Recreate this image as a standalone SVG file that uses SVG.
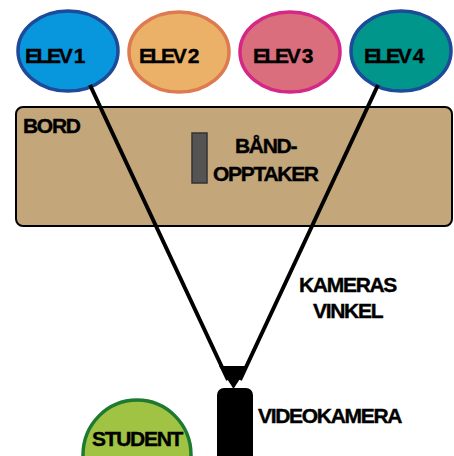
<svg xmlns="http://www.w3.org/2000/svg" width="454" height="456" viewBox="0 0 454 456">
  <style>
    .lbl { font-family: "Liberation Sans", Arial, sans-serif; font-weight: bold; font-size: 21px; letter-spacing: -1.3px; fill: #000; stroke: #000; stroke-width: 0.4px; }
    .tight { letter-spacing: -2.4px; }
    .elev { stroke-width: 3.5; }
    .ray { stroke: #000; stroke-width: 4; fill: none; }
  </style>
  <rect width="454" height="456" fill="#fff"/>

  <!-- table -->
  <g id="bord">
    <rect x="16" y="107" width="436" height="119" rx="7" fill="#c4a67b" stroke="#000" stroke-width="2"/>
    <text class="lbl" x="23" y="133">BORD</text>
  </g>

  <!-- tape recorder on the table -->
  <g id="baandopptaker">
    <rect x="192" y="133" width="15" height="50" fill="#545454" stroke="#333" stroke-width="1.5"/>
    <text class="lbl" x="235" y="153">BÅND-</text>
    <text class="lbl" x="213" y="181">OPPTAKER</text>
  </g>

  <!-- pupils -->
  <g id="elev1">
    <ellipse class="elev" cx="68" cy="51" rx="50" ry="40" fill="#0897dc" stroke="#1e4a9a"/>
    <text class="lbl tight" x="25" y="63">ELEV 1</text>
  </g>
  <g id="elev2">
    <ellipse class="elev" cx="179" cy="52" rx="50" ry="40" fill="#ebb168" stroke="#de7a50"/>
    <text class="lbl tight" x="139" y="63">ELEV 2</text>
  </g>
  <g id="elev3">
    <ellipse class="elev" cx="290" cy="52" rx="50" ry="40" fill="#da6e7c" stroke="#d42786"/>
    <text class="lbl tight" x="253" y="63">ELEV 3</text>
  </g>
  <g id="elev4">
    <ellipse class="elev" cx="401" cy="51" rx="50" ry="40" fill="#00968c" stroke="#1e4a9a"/>
    <text class="lbl tight" x="364" y="63">ELEV 4</text>
  </g>

  <!-- camera field of view -->
  <g id="connectors">
    <line class="ray" x1="90" y1="85" x2="228" y2="380"/>
    <line class="ray" x1="378" y1="85" x2="240" y2="380"/>
  </g>

  <!-- video camera -->
  <g id="videokamera">
    <polygon points="219,366 248,366 233.5,389" fill="#000"/>
    <rect x="217" y="388" width="36" height="80" rx="7" fill="#000"/>
    <text class="lbl" x="258" y="423">VIDEOKAMERA</text>
  </g>

  <g id="kamerasvinkel">
    <text class="lbl" x="299" y="292">KAMERAS</text>
    <text class="lbl" x="313" y="318">VINKEL</text>
  </g>

  <!-- student -->
  <g id="student">
    <ellipse cx="137" cy="455" rx="54" ry="55" fill="#a0c344" stroke="#1d7a30" stroke-width="3.5"/>
    <text class="lbl" x="92" y="446">STUDENT</text>
  </g>
</svg>
